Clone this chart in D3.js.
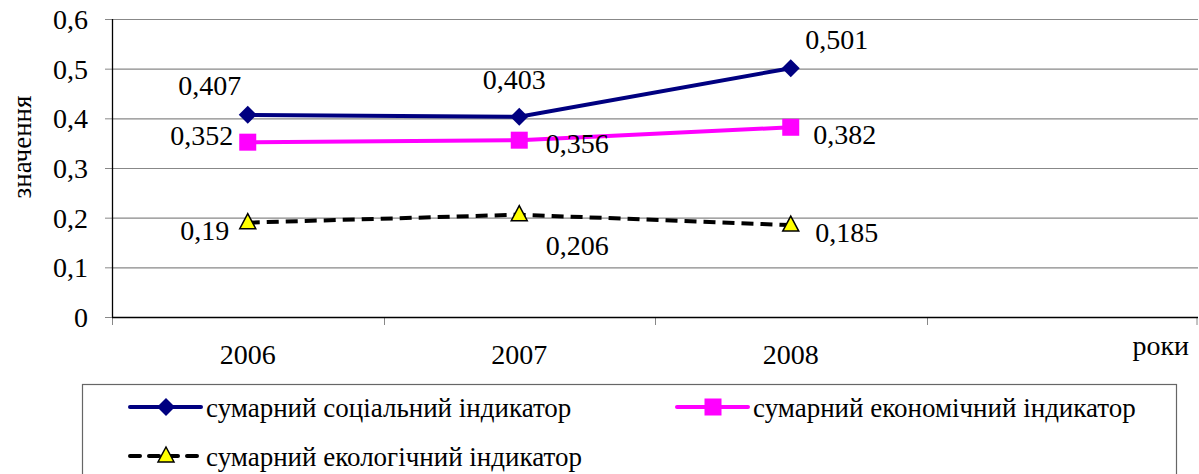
<!DOCTYPE html>
<html>
<head>
<script src="https://cdn.jsdelivr.net/npm/d3@7"></script>
</head>
<body style="margin:0">
<div class="chart"></div>
<script>
// chart data
const years = ["2006", "2007", "2008", ""];
const social = [0.407, 0.403, 0.501];
const economic = [0.352, 0.356, 0.382];
const ecological = [0.19, 0.206, 0.185];
const seriesNames = ["сумарний соціальний індикатор", "сумарний економічний індикатор", "сумарний екологічний індикатор"];
const yTicks = [0, 0.1, 0.2, 0.3, 0.4, 0.5, 0.6];

// label offsets (dx, dy from the point) so labels sit like in the original
const labelOffsets = [
    [[-38, -20], [-5, -28], [46, -19]],
    [[-46, 3], [58, 13], [54, 17]],
    [[-43, 17], [58, 40], [56, 17]]
];

const W = 1199, H = 474;
const margin = {top: 19, left: 112, right: 1, bottom: 157};
const width = W - margin.left - margin.right;
const height = H - margin.top - margin.bottom;
const serif = "'Liberation Serif'";

const svg = d3.select(".chart").append("svg")
    .attr("width", W).attr("height", H)
    .style("font-family", serif);

const g = svg.append("g")
    .attr("transform", "translate(" + margin.left + "," + margin.top + ")");

const x = d3.scaleBand().domain(years).range([0, width]);
const y = d3.scaleLinear().domain([0, 0.6]).range([height, 0]);
const fmt = v => String(v).replace(".", ",");

// helper: serif text of a given size
function serifText(sel, size) {
    return sel.style("font-family", serif).attr("font-size", size).attr("fill", "#000");
}

// y axis ticks and labels
const yAxis = g.append("g")
    .call(d3.axisLeft(y).tickValues(yTicks).tickSize(7).tickFormat(d => d === 0 ? "0" : d3.format(".1f")(d).replace(".", ",")));
yAxis.attr("font-family", null).attr("font-size", null);
yAxis.select(".domain").remove();
yAxis.selectAll(".tick line").attr("stroke", "#888");
serifText(yAxis.selectAll(".tick text"), 28)
    .attr("x", -24).attr("dy", "0.34em");

// gridlines
g.append("g").selectAll("line")
    .data(yTicks.filter(d => d > 0))
    .enter().append("line")
    .attr("x1", 0).attr("x2", width)
    .attr("y1", d => y(d) + 0.5).attr("y2", d => y(d) + 0.5)
    .attr("stroke", "#888").attr("stroke-width", 1.2);

// x axis
const xAxis = g.append("g")
    .attr("transform", "translate(0," + height + ")")
    .call(d3.axisBottom(x).tickSize(0).tickPadding(0));
xAxis.attr("font-family", null).attr("font-size", null);
xAxis.select(".domain").remove();
serifText(xAxis.selectAll(".tick text"), 28)
    .attr("y", 47).attr("dy", null);

g.append("g").selectAll("line")
    .data(d3.range(years.length + 1))
    .enter().append("line")
    .attr("x1", i => Math.min(Math.round(i * x.step()) + 0.5, width - 1))
    .attr("x2", i => Math.min(Math.round(i * x.step()) + 0.5, width - 1))
    .attr("y1", height).attr("y2", height + 8)
    .attr("stroke", "#888");

g.append("line")
    .attr("x1", 0).attr("x2", width)
    .attr("y1", height + 0.5).attr("y2", height + 0.5)
    .attr("stroke", "#000").attr("stroke-width", 1.3);
g.append("line")
    .attr("x1", 0.5).attr("x2", 0.5)
    .attr("y1", 0).attr("y2", height)
    .attr("stroke", "#000").attr("stroke-width", 1.3);

// axis titles
serifText(svg.append("text"), 27)
    .attr("transform", "translate(31,147) rotate(-90)")
    .attr("text-anchor", "middle")
    .text("значення");
serifText(svg.append("text"), 28)
    .attr("x", 1189).attr("y", 355)
    .attr("text-anchor", "end")
    .text("роки");

// series
const series = [
    {name: seriesNames[0], values: social, color: "#000080", dash: null, marker: "diamond"},
    {name: seriesNames[1], values: economic, color: "#ff00ff", dash: null, marker: "square"},
    {name: seriesNames[2], values: ecological, color: "#000000", dash: "12,7", marker: "triangle"}
];

function drawMarker(sel, s, cx, cy) {
    if (s.marker === "diamond") {
        sel.append("path")
            .attr("d", "M0,-9L9,0L0,9L-9,0Z")
            .attr("transform", "translate(" + cx + "," + cy + ")")
            .attr("fill", s.color);
    } else if (s.marker === "square") {
        sel.append("rect")
            .attr("x", cx - 8.5).attr("y", cy - 8.5)
            .attr("width", 17).attr("height", 17)
            .attr("fill", s.color);
    } else {
        sel.append("path")
            .attr("d", "M0,-9L8,6L-8,6Z")
            .attr("transform", "translate(" + cx + "," + cy + ")")
            .attr("fill", "#ffff00").attr("stroke", "#000").attr("stroke-width", 1.5);
    }
}

const line = d3.line()
    .x((d, i) => x(years[i]) + x.bandwidth() / 2)
    .y(d => y(d));

series.forEach((s, si) => {
    const sg = g.append("g");
    sg.append("path")
        .datum(s.values)
        .attr("d", line)
        .attr("fill", "none")
        .attr("stroke", s.color)
        .attr("stroke-width", 4)
        .attr("stroke-dasharray", s.dash);
    s.values.forEach((v, i) => {
        const cx = x(years[i]) + x.bandwidth() / 2;
        drawMarker(sg, s, cx, y(v));
        serifText(sg.append("text"), 28)
            .attr("x", cx + labelOffsets[si][i][0])
            .attr("y", y(v) + labelOffsets[si][i][1])
            .attr("text-anchor", "middle")
            .text(fmt(v));
    });
});

// legend
svg.append("rect")
    .attr("x", 82.5).attr("y", 384.5)
    .attr("width", 1094).attr("height", 100)
    .attr("fill", "none").attr("stroke", "#666").attr("stroke-width", 1.2);

const legendPos = [[130, 407], [677, 407], [130, 456]];
series.forEach((s, si) => {
    const lg = svg.append("g");
    const [lx, ly] = legendPos[si];
    lg.append("line")
        .attr("x1", lx).attr("x2", lx + 71)
        .attr("y1", ly).attr("y2", ly)
        .attr("stroke", s.color).attr("stroke-width", 4)
        .attr("stroke-linecap", "round")
        .attr("stroke-dasharray", s.dash ? "10,9" : null);
    drawMarker(lg, s, lx + 36, ly);
    serifText(lg.append("text"), 27)
        .attr("x", lx + 76).attr("y", ly + 10)
        .text(s.name);
});
</script>
</body>
</html>
